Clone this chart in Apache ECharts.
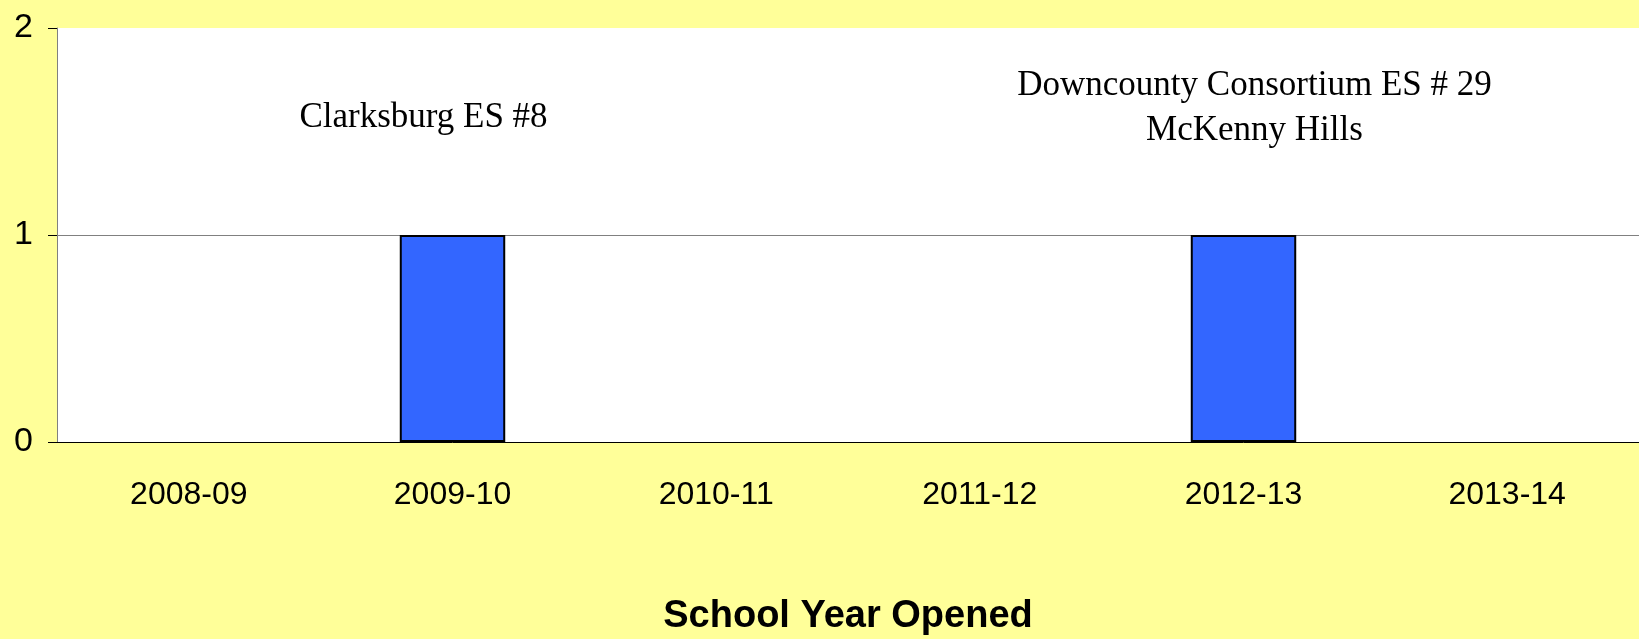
<!DOCTYPE html>
<html>
<head>
<meta charset="utf-8">
<script src="https://cdn.jsdelivr.net/npm/echarts@6/dist/echarts.min.js"></script>
<style>
	html, body { margin: 0; padding: 0; background: #ffff99; }
	#main { width: 1639px; height: 639px; }
</style>
</head>
<body>
<div id="main"></div>
<script>
var years = [ '2008-09', '2009-10', '2010-11', '2011-12', '2012-13', '2013-14' ];
var schoolsOpened = [ 0, 1, 0, 0, 1, 0 ];
var schoolNames = [ '', 'Clarksburg ES #8', '', '', 'Downcounty Consortium ES # 29\nMcKenny Hills', '' ];
var yTicks = [ 0, 1, 2 ];

// label shift from bar top, per category
function labelOffset(i) {
	return i === 1 ? [ -29, -95 ] : [ 11, -82 ];
}

var barData = schoolsOpened.map(function(v, i) {
	return {
		value: v,
		itemStyle: { borderWidth: v > 0 ? 2 : 0 },
		label: {
			show: schoolNames[i] !== '',
			formatter: schoolNames[i],
			offset: labelOffset(i)
		}
	};
});

var myChart = echarts.init(document.getElementById('main'));
var option = {
	backgroundColor: '#ffff99',
	animation: false,
	grid: {
		left: 57,
		right: 0,
		top: 28,
		bottom: 197,
		containLabel: false,
		outerBoundsMode: 'none',
		show: true,
		backgroundColor: '#ffffff',
		borderWidth: 0
	},
	xAxis: {
		type: 'category',
		data: years,
		name: 'School Year Opened',
		nameLocation: 'middle',
		nameGap: 156,
		nameTextStyle: {
			color: '#000',
			fontFamily: 'Liberation Sans, Arial, sans-serif',
			fontWeight: 'bold',
			fontSize: 38
		},
		axisLine: { lineStyle: { color: '#000', width: 1 } },
		axisTick: { length: 10, lineStyle: { color: '#000' } },
		axisLabel: {
			color: '#000',
			fontFamily: 'Liberation Sans, Arial, sans-serif',
			fontSize: 32,
			margin: 37
		},
		splitLine: { show: false }
	},
	yAxis: {
		type: 'value',
		min: yTicks[0],
		max: yTicks[yTicks.length - 1],
		interval: 1,
		axisLine: { show: true, lineStyle: { color: '#808080', width: 1 } },
		axisTick: { show: true, length: 9, lineStyle: { color: '#000' } },
		axisLabel: {
			color: '#000',
			fontFamily: 'Liberation Sans, Arial, sans-serif',
			fontSize: 34,
			margin: 24
		},
		splitLine: {
			show: true,
			showMinLine: false,
			showMaxLine: false,
			lineStyle: { color: '#808080', width: 1 }
		}
	},
	series: [ {
		type: 'bar',
		barWidth: '40%',
		itemStyle: {
			color: '#3366ff',
			borderColor: '#000',
			borderWidth: 2
		},
		label: {
			position: 'top',
			distance: 0,
			color: '#000',
			fontFamily: 'Liberation Serif, Times New Roman, serif',
			fontSize: 35,
			lineHeight: 45,
			align: 'center'
		},
		data: barData
	} ]
};
myChart.setOption(option);
</script>
</body>
</html>
